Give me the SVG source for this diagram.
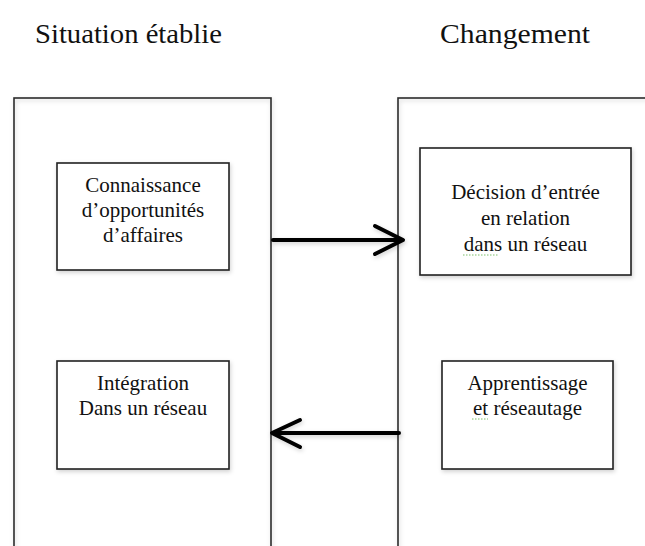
<svg xmlns="http://www.w3.org/2000/svg" width="645" height="546" viewBox="0 0 645 546">
<style>
.title{font-family:"Liberation Serif","Times New Roman",serif;font-size:27px;fill:#111;text-anchor:middle}
.lbl{font-family:"Liberation Serif","Times New Roman",serif;font-size:21px;fill:#111;text-anchor:middle}
.outer{fill:none;stroke:#2a2a2a;stroke-width:1.6}
.inner{fill:#fff;stroke:#222;stroke-width:1.6}
.arrow{fill:none;stroke:#000;stroke-width:4;stroke-linecap:round;stroke-linejoin:round}
.squig{fill:none;stroke:#7cbf6a;stroke-width:1;stroke-dasharray:1.5 1.5}
</style>
<defs>
<filter id="sh" x="-10%" y="-10%" width="130%" height="130%">
<feDropShadow dx="1" dy="2" stdDeviation="2" flood-color="#000" flood-opacity="0.18"/>
</filter>
</defs>
<rect width="645" height="546" fill="#fff"/>
<text class="title" x="128.5" y="43" textLength="187" lengthAdjust="spacingAndGlyphs">Situation établie</text>
<text class="title" x="515" y="43" textLength="150" lengthAdjust="spacingAndGlyphs">Changement</text>
<g id="situation">
<rect class="outer" x="14" y="98" width="257" height="460" filter="url(#sh)"/>
</g>
<g id="changement">
<rect class="outer" x="398" y="98" width="260" height="460" filter="url(#sh)"/>
</g>
<g id="connaissance">
<rect class="inner" x="57" y="163" width="172" height="107" filter="url(#sh)"/>
<text class="lbl" x="143" y="192">Connaissance</text>
<text class="lbl" x="143" y="217">d’opportunités</text>
<text class="lbl" x="143" y="242">d’affaires</text>
</g>
<g id="decision">
<rect class="inner" x="420" y="148" width="211" height="127" filter="url(#sh)"/>
<text class="lbl" x="525.5" y="199">Décision d’entrée</text>
<text class="lbl" x="525.5" y="225">en relation</text>
<text class="lbl" x="525.5" y="251">dans un réseau</text>
<path class="squig" d="M463 255 H498"/>
</g>
<g id="integration">
<rect class="inner" x="57" y="361" width="172" height="108" filter="url(#sh)"/>
<text class="lbl" x="143" y="390">Intégration</text>
<text class="lbl" x="143" y="415">Dans un réseau</text>
</g>
<g id="apprentissage">
<rect class="inner" x="442" y="361" width="171" height="108" filter="url(#sh)"/>
<text class="lbl" x="527.5" y="390">Apprentissage</text>
<text class="lbl" x="527.5" y="415">et réseautage</text>
<path class="squig" d="M472 419 H488"/>
</g>
<g id="connectors" filter="url(#sh)">
<path class="arrow" d="M273 240 H402 M375 226 L403 240 L375 254"/>
<path class="arrow" d="M399 433 H273 M300 420 L272 433 L300 447"/>
</g>
</svg>
